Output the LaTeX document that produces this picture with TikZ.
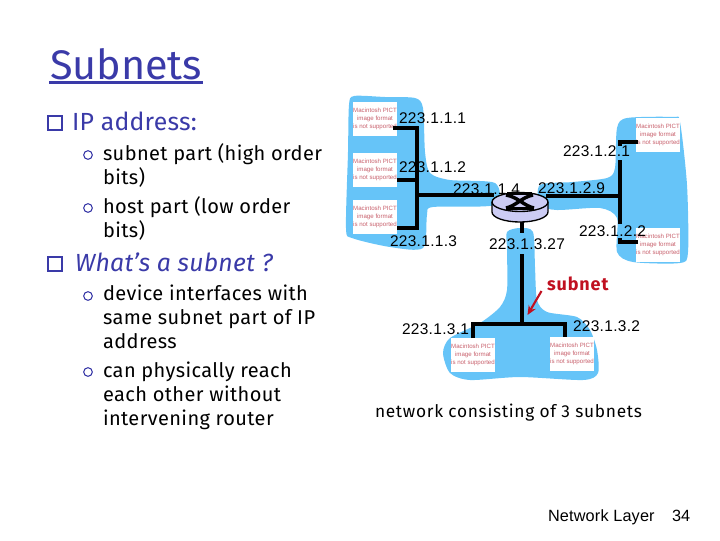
\documentclass[tikz,border=0pt]{standalone}
\usepackage{fontspec}
\setmainfont{Fira Sans}
\newfontfamily\addrfont{Liberation Sans}
\usetikzlibrary{arrows.meta}
\definecolor{blobblue}{HTML}{66C4F8}
\definecolor{titleblue}{HTML}{3A3AA8}
\definecolor{pictred}{HTML}{C8606C}
\definecolor{arrowred}{HTML}{C01020}
\definecolor{routerfill}{HTML}{CCCCF4}
\tikzset{
  txt/.style={anchor=base west,inner sep=0pt,outer sep=0pt},
  body/.style={txt,align=left,text=black,font=\fontsize{15}{18}\selectfont\addfontfeature{LetterSpace=2}},
  addr/.style={txt,text=black,font=\addrfont\fontsize{11.6}{14}\selectfont\addfontfeature{LetterSpace=2}},
  pict/.style={draw=none,fill=white,minimum width=33.5pt,minimum height=26pt,inner sep=0pt,align=center,text=pictred,font=\addrfont\fontsize{4.6}{6.2}\selectfont},
  blob/.style={fill=blobblue,draw=none},
  wire/.style={line width=2.4pt,black,line cap=butt},
  sqbullet/.style={draw=titleblue,line width=1.2pt,minimum size=10.5pt,inner sep=0pt},
  cbullet/.style={circle,draw=titleblue,line width=.8pt,minimum size=6.5pt,inner sep=0pt}
}
\begin{document}
\begin{tikzpicture}[x=.75pt,y=-.75pt]
\useasboundingbox (0,0) rectangle (720,540);
% clouds
\fill[blob] plot[smooth cycle,tension=.45] coordinates {(354,96) (385,97) (415,98) (423,108) (425,152) (430,173) (450,180) (495,183) (495,205) (433,207) (427,215) (423,248) (390,247) (352,238) (346,228) (348,152) (349,105)};
\fill[blob] plot[smooth cycle,tension=.45] coordinates {(540,185) (573,182) (607,178) (615,168) (617,128) (627,118) (673,117) (680,122) (687,185) (688,252) (680,263) (633,262) (617,252) (617,218) (600,208) (557,210) (540,205)};
\fill[blob] plot[smooth cycle,tension=.45] coordinates {(507,232) (520,228) (533,232) (535,267) (537,300) (547,312) (577,317) (590,330) (597,350) (598,373) (583,380) (520,377) (470,380) (450,373) (443,353) (450,338) (480,323) (500,307) (507,290) (507,250)};
% hosts
\node[pict] (h1) at (375,119) {Macintosh PICT\\image format\\is not supported};
\node[pict] (h2) at (375,170) {Macintosh PICT\\image format\\is not supported};
\node[pict] (h3) at (375,217) {Macintosh PICT\\image format\\is not supported};
\node[pict] (h4) at (658,135) {Macintosh PICT\\image format\\is not supported};
\node[pict] (h5) at (658,245) {Macintosh PICT\\image format\\is not supported};
\node[pict] (h6) at (473,355) {Macintosh PICT\\image format\\is not supported};
\node[pict] (h7) at (572,354) {Macintosh PICT\\image format\\is not supported};
% junctions
\coordinate (j1a) at (393,128); \coordinate (j1b) at (417,128);
\coordinate (j2a) at (397,180); \coordinate (j2b) at (417,180);
\coordinate (j3a) at (397,228); \coordinate (j3b) at (417,228);
\coordinate (jl) at (417,195);
\coordinate (jr) at (620,196);
\coordinate (rl) at (494,195); \coordinate (rr) at (546,196);
\coordinate (r4a) at (638,142); \coordinate (r4b) at (620,142); \coordinate (r4c) at (620,146);
\coordinate (r4d) at (620,160);
\coordinate (r5a) at (638,242); \coordinate (r5b) at (620,242); \coordinate (r5c) at (620,238);
\coordinate (r5d) at (620,224);
\coordinate (rb) at (522,220); \coordinate (rb1) at (522,233); \coordinate (rb2) at (522,254);
\coordinate (jb) at (522,324);
\coordinate (b6a) at (473,338); \coordinate (b6b) at (473,324);
\coordinate (b7a) at (565,337); \coordinate (b7b) at (565,324);
% wires
\draw[wire] (j1a) -- (j1b) -- (j3b) -- (j3a);
\draw[wire] (j2a) -- (j2b);
\draw[wire] (jl) -- (rl);
\draw[wire] (rr) -- (jr);
\draw[wire] (r4a) -- (r4b) -- (r4c);
\draw[wire] (r4d) -- (r5d);
\draw[wire] (r5a) -- (r5b) -- (r5c);
\draw[wire] (rb) -- (rb1);
\draw[wire] (rb2) -- (jb);
\draw[wire] (b6a) -- (b6b) -- (b7b) -- (b7a);
% router
\fill[routerfill,draw=black,line width=1pt] (492,202) -- (492,212) arc[start angle=180,end angle=0,x radius=28,y radius=10] -- (548,202) arc[start angle=0,end angle=-180,x radius=28,y radius=9.5] -- cycle;
\draw[black,line width=1pt] (492,202) arc[start angle=180,end angle=0,x radius=28,y radius=9.5];
\draw[black,line width=2.4pt] (507,193.5) -- (532,193.5);
\draw[black,line width=2.4pt] (506,208.5) -- (534,208.5);
\draw[black,line width=2.6pt] (506,195) .. controls (518,197) and (524,206) .. (534,208);
\draw[black,line width=2.6pt] (533,195) .. controls (522,197) and (516,206) .. (506,208);
% addresses
\node[addr] (a1) at (399,123) {223.1.1.1};
\node[addr] (a2) at (399,172) {223.1.1.2};
\node[addr] (a3) at (453,194) {223.1.1.4};
\node[addr] (a4) at (538,193) {223.1.2.9};
\node[addr] (a5) at (563,156) {223.1.2.1};
\node[addr] (a6) at (579,236) {223.1.2.2};
\node[addr] (a7) at (390,246) {223.1.1.3};
\node[addr] (a8) at (489,249) {223.1.3.27};
\node[addr] (a9) at (402,334) {223.1.3.1};
\node[addr] (a10) at (573,331) {223.1.3.2};
% subnet arrow
\node[txt,text=arrowred,font=\fontsize{13.5}{16}\bfseries\selectfont\addfontfeature{LetterSpace=5}] (sn) at (547,290) {subnet};
\coordinate (ar1) at (541.5,291); \coordinate (ar2) at (527.5,315);
\draw[arrowred,line width=1.6pt,-{Stealth[length=7pt,width=6pt]}] (ar1) -- (ar2);
% left column
\node[txt,text=titleblue,font=\fontsize{31}{36}\selectfont] (title) at (50,79) {Subnets};
\coordinate (ul1) at (49,82.5); \coordinate (ul2) at (203,82.5);
\draw[titleblue,line width=1.8pt] (ul1) -- (ul2);
\node[sqbullet] (b1) at (55,123) {};
\node[txt,text=titleblue,font=\fontsize{18.6}{21}\selectfont\addfontfeature{LetterSpace=1}] (ip) at (72,130) {IP address:};
\node[cbullet] (c1) at (88,155) {};
\node[body] (t1) at (103,184) {subnet part (high order\\bits)};
\node[cbullet] (c2) at (88,208) {};
\node[body] (t2) at (103,237) {host part (low order\\bits)};
\node[sqbullet] (b2) at (55,264) {};
\node[txt,text=titleblue,font=\fontsize{18.6}{21}\itshape\selectfont\addfontfeature{LetterSpace=1}] (wh) at (75,271) {What’s a subnet ?};
\node[cbullet] (c3) at (88,296) {};
\node[body] (t3) at (103,348) {device interfaces with\\same subnet part of IP\\address};
\node[cbullet] (c4) at (88,372) {};
\node[body] (t4) at (103,425) {can physically reach\\each other without\\intervening router};
\node[txt,text=black,font=\fontsize{13}{16}\selectfont\addfontfeature{LetterSpace=4}] (cap) at (375,417) {network consisting of 3 subnets};
\node[txt,text=black,font=\addrfont\fontsize{12.2}{14}\selectfont\addfontfeature{LetterSpace=1}] (nl) at (548,521) {Network Layer};
\node[txt,text=black,font=\addrfont\fontsize{12.2}{14}\selectfont] (pg) at (672,521) {34};
\end{tikzpicture}
\end{document}
